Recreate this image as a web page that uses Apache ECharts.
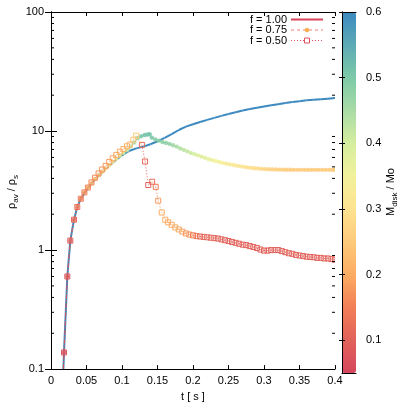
<!DOCTYPE html>
<html><head><meta charset="utf-8">
<script src="https://cdn.jsdelivr.net/npm/echarts@6/dist/echarts.min.js"></script>
<style>html,body{margin:0;padding:0;background:#fff}#c{width:407px;height:407px}</style>
</head><body><div id="c"></div>
<script>
// ---- data (t in s, rho_av/rho_s, M_disk/Mo) ----
const t100 = [0.014, 0.0183, 0.023, 0.0272, 0.0324, 0.037, 0.042, 0.05, 0.06, 0.07, 0.08, 0.09, 0.10, 0.11, 0.12, 0.13, 0.14, 0.15, 0.16, 0.17, 0.18, 0.19, 0.20, 0.21, 0.22, 0.23, 0.24, 0.25, 0.26, 0.27, 0.28, 0.29, 0.30, 0.31, 0.32, 0.33, 0.34, 0.35, 0.36, 0.37, 0.38, 0.39, 0.40];
const v100 = [0.03, 0.138, 0.60, 1.20, 1.80, 2.30, 2.70, 3.20, 3.80, 4.40, 5.00, 5.60, 6.25, 6.80, 7.15, 7.40, 7.75, 8.20, 8.75, 9.40, 10.2, 10.9, 11.4, 11.9, 12.4, 12.9, 13.4, 13.9, 14.4, 14.9, 15.3, 15.7, 16.1, 16.5, 16.8, 17.2, 17.5, 17.8, 18.1, 18.3, 18.5, 18.7, 18.95];
const m100 = [0.6, 0.6, 0.6, 0.6, 0.6, 0.6, 0.6, 0.6, 0.6, 0.6, 0.6, 0.6, 0.6, 0.6, 0.6, 0.6, 0.6, 0.6, 0.6, 0.6, 0.6, 0.6, 0.6, 0.6, 0.6, 0.6, 0.6, 0.6, 0.6, 0.6, 0.6, 0.6, 0.6, 0.6, 0.6, 0.6, 0.6, 0.6, 0.6, 0.6, 0.6, 0.6, 0.6];

const t75 = [0.0140, 0.0183, 0.0230, 0.0272, 0.0324, 0.0370, 0.0420, 0.0470, 0.0520, 0.0570, 0.0620, 0.0670, 0.0720, 0.0770, 0.0820, 0.0870, 0.0920, 0.0970, 0.1020, 0.1070, 0.1120, 0.1170, 0.1220, 0.1270, 0.1320, 0.1360, 0.1390, 0.1420,
  0.147, 0.152, 0.157, 0.162, 0.167, 0.172, 0.177, 0.182, 0.187, 0.192,
  0.197, 0.202, 0.207, 0.212, 0.217, 0.222, 0.227, 0.232, 0.237, 0.242,
  0.247, 0.252, 0.257, 0.262, 0.267, 0.272, 0.277, 0.282, 0.287, 0.292,
  0.297, 0.302, 0.307, 0.312, 0.317, 0.322, 0.327, 0.332, 0.337, 0.342,
  0.347, 0.352, 0.357, 0.362, 0.367, 0.372, 0.377, 0.382, 0.387, 0.392,
  0.397, 0.400];
const v75 = [0.03, 0.138, 0.60, 1.20, 1.80, 2.30, 2.70, 3.05, 3.35, 3.65, 3.95, 4.25, 4.55, 4.85, 5.15, 5.50, 5.85, 6.20, 6.55, 6.90, 7.40, 8.00, 8.70, 9.05, 9.25, 9.35, 9.40, 8.80,
  8.50, 8.30, 8.10, 7.95, 7.80, 7.60, 7.40, 7.15, 6.95, 6.75,
  6.55, 6.40, 6.25, 6.10, 5.95, 5.80, 5.70, 5.60, 5.50, 5.40,
  5.32, 5.25, 5.18, 5.12, 5.05, 5.00, 4.95, 4.90, 4.87, 4.84,
  4.81, 4.79, 4.77, 4.76, 4.75, 4.74, 4.74, 4.73, 4.73, 4.72,
  4.72, 4.72, 4.72, 4.72, 4.72, 4.72, 4.72, 4.72, 4.72, 4.72,
  4.73, 4.73];
const m75 = [0.06, 0.07, 0.08, 0.10, 0.12, 0.14, 0.16, 0.18, 0.20, 0.22, 0.24, 0.26, 0.28, 0.30, 0.32, 0.34, 0.36, 0.38, 0.40, 0.42, 0.44, 0.46, 0.48, 0.50, 0.51, 0.51, 0.51, 0.50,
  0.49, 0.49, 0.48, 0.48, 0.47, 0.46, 0.45, 0.44, 0.43, 0.42,
  0.41, 0.40, 0.39, 0.385, 0.38, 0.37, 0.36, 0.35, 0.345, 0.34,
  0.33, 0.325, 0.32, 0.31, 0.305, 0.30, 0.295, 0.29, 0.285, 0.28,
  0.275, 0.27, 0.265, 0.26, 0.26, 0.255, 0.255, 0.25, 0.25, 0.25,
  0.25, 0.25, 0.25, 0.25, 0.25, 0.25, 0.25, 0.25, 0.25, 0.25,
  0.25, 0.25];

const t50 = [0.0140, 0.0183, 0.0230, 0.0272, 0.0324, 0.0370, 0.0420, 0.0470, 0.0520, 0.0570, 0.0620, 0.0670, 0.0720, 0.0770, 0.0820, 0.0870, 0.0920, 0.0970, 0.1020, 0.1070, 0.1110, 0.1160, 0.1200,
  0.1280, 0.1325, 0.1370, 0.1425, 0.1475, 0.1510,
  0.1560, 0.1610, 0.1650, 0.1700, 0.1750, 0.1800, 0.1850, 0.1900, 0.1950, 0.2000,
  0.205, 0.210, 0.215, 0.220, 0.225, 0.230, 0.235, 0.240, 0.245, 0.250,
  0.255, 0.260, 0.265, 0.270, 0.275, 0.280, 0.285, 0.290, 0.295, 0.300,
  0.305, 0.310, 0.315, 0.320, 0.325, 0.330, 0.335, 0.340, 0.345, 0.350,
  0.355, 0.360, 0.365, 0.370, 0.375, 0.380, 0.385, 0.390, 0.395, 0.400];
const v50 = [0.03, 0.138, 0.60, 1.20, 1.80, 2.30, 2.70, 3.05, 3.35, 3.70, 4.05, 4.40, 4.75, 5.10, 5.50, 5.90, 6.30, 6.70, 7.05, 7.45, 7.70, 8.45, 9.15,
  7.65, 5.55, 3.52, 3.75, 3.40, 2.60,
  2.07, 1.80, 1.71, 1.63, 1.55, 1.49, 1.43, 1.38, 1.35, 1.33,
  1.31, 1.30, 1.29, 1.28, 1.27, 1.26, 1.25, 1.23, 1.21, 1.19,
  1.17, 1.15, 1.13, 1.11, 1.10, 1.08, 1.06, 1.04, 1.01, 0.99,
  0.99, 1.00, 1.00, 1.00, 0.98, 0.96, 0.94, 0.93, 0.91, 0.90,
  0.89, 0.88, 0.875, 0.87, 0.86, 0.86, 0.85, 0.85, 0.84, 0.83];
const m50 = [0.06, 0.07, 0.08, 0.09, 0.11, 0.13, 0.14, 0.15, 0.155, 0.16, 0.165, 0.17, 0.175, 0.18, 0.185, 0.19, 0.195, 0.20, 0.205, 0.21, 0.22, 0.24, 0.25,
  0.11, 0.11, 0.10, 0.12, 0.14, 0.18,
  0.20, 0.20, 0.20, 0.20, 0.20, 0.20, 0.19, 0.18, 0.17, 0.15,
  0.13, 0.12, 0.11, 0.11, 0.11, 0.11, 0.10, 0.10, 0.10, 0.10,
  0.10, 0.10, 0.10, 0.10, 0.10, 0.10, 0.10, 0.10, 0.10, 0.10,
  0.10, 0.10, 0.10, 0.10, 0.10, 0.10, 0.10, 0.10, 0.10, 0.10,
  0.10, 0.10, 0.10, 0.10, 0.10, 0.10, 0.10, 0.10, 0.10, 0.10];

const legendNames = ['f = 1.00', 'f = 0.75', 'f = 0.50'];
const yMinorTicks = [0.2, 0.3, 0.4, 0.5, 0.6, 0.7, 0.8, 0.9, 2, 3, 4, 5, 6, 7, 8, 9, 20, 30, 40, 50, 60, 70, 80, 90];
const cbMin = 0.05, cbMax = 0.6;
const palette = ['#d5475c', '#e2625b', '#f27f57', '#fcac63', '#fdca7b', '#fde28f', '#f2f19c', '#d5ee9e', '#a9dba6', '#7dc9a8', '#5caab5', '#3c89bf'];

const FONT = 'Liberation Sans, Arial, sans-serif';

function rows(t, v, m) { return t.map((x, i) => [x, v[i], m[i]]); }

function pathRender(t, v, style) {
  return function (params, api) {
    const i = params.dataIndex;
    const p = api.coord([api.value(0), api.value(1)]);
    const col = api.visual('color');
    const ch = [];
    if (i < t.length - 1) {
      const q = api.coord([t[i + 1], v[i + 1]]);
      ch.push({ type: 'line', shape: { x1: p[0], y1: p[1], x2: q[0], y2: q[1] },
        style: { stroke: col, lineWidth: style.lw, lineDash: style.dash || null, fill: null } });
    }
    if (style.marker === 'dot') {
      ch.push({ type: 'circle', shape: { cx: p[0], cy: p[1], r: 2.2 }, style: { fill: col, stroke: null, opacity: 0.85 } });
    } else if (style.marker === 'square') {
      ch.push({ type: 'rect', shape: { x: p[0] - 2.5, y: p[1] - 2.5, width: 5, height: 5 }, style: { fill: null, stroke: col, lineWidth: 1 } });
    }
    return { type: 'group', children: ch };
  };
}

// legend (drawn as graphic, gnuplot style: text then sample)
const legendColors = ['#d8455b', '#ee7f74', '#e0505f'];
const legendY = [19.5, 30, 40.5];
const legendGraphic = [];
legendNames.forEach((name, k) => {
  const y = legendY[k];
  legendGraphic.push({ type: 'text', x: 287, y: y, style: { text: name, align: 'right', verticalAlign: 'middle', fill: '#000', font: '11px ' + FONT } });
});
legendGraphic.push({ type: 'line', shape: { x1: 291, y1: legendY[0], x2: 323, y2: legendY[0] }, style: { stroke: legendColors[0], lineWidth: 2 } });
legendGraphic.push({ type: 'line', shape: { x1: 291, y1: legendY[1], x2: 323, y2: legendY[1] }, style: { stroke: legendColors[1], lineWidth: 1, lineDash: [3, 3] } });
legendGraphic.push({ type: 'circle', shape: { cx: 307, cy: legendY[1], r: 2.3 }, style: { fill: '#f9b050' } });
legendGraphic.push({ type: 'line', shape: { x1: 291, y1: legendY[2], x2: 323, y2: legendY[2] }, style: { stroke: legendColors[2], lineWidth: 1, lineDash: [1, 2] } });
legendGraphic.push({ type: 'rect', shape: { x: 304.5, y: legendY[2] - 2.5, width: 5, height: 5 }, style: { fill: '#fff', stroke: legendColors[2], lineWidth: 1 } });

const chart = echarts.init(document.getElementById('c'), null, { renderer: 'canvas' });
const axisLineBlack = { show: true, lineStyle: { color: '#000', width: 1 } };

chart.setOption({
  animation: false,
  backgroundColor: '#fff',
  textStyle: { fontFamily: FONT },
  grid: [
    { left: 51, top: 12, width: 284, height: 361 },
    { left: 342, top: 12, width: 14, height: 361 }
  ],
  xAxis: [
    { gridIndex: 0, type: 'value', min: 0, max: 0.4, interval: 0.05, position: 'bottom', z: 5,
      axisLine: axisLineBlack, axisTick: { inside: true, length: 4, lineStyle: { color: '#000' } },
      axisLabel: { color: '#000', fontSize: 11, margin: 6, fontFamily: FONT }, splitLine: { show: false },
      name: 't [ s ]', nameLocation: 'middle', nameGap: 20, nameTextStyle: { color: '#000', fontSize: 11, fontFamily: FONT } },
    { gridIndex: 0, type: 'value', min: 0, max: 0.4, interval: 0.05, position: 'top', z: 5,
      axisLine: axisLineBlack, axisTick: { inside: true, length: 4, lineStyle: { color: '#000' } },
      axisLabel: { show: false }, splitLine: { show: false } },
    { gridIndex: 1, type: 'value', min: 0, max: 1, position: 'bottom', z: 5, axisLine: axisLineBlack,
      axisTick: { show: false }, axisLabel: { show: false }, splitLine: { show: false } },
    { gridIndex: 1, type: 'value', min: 0, max: 1, position: 'top', z: 5, axisLine: axisLineBlack,
      axisTick: { show: false }, axisLabel: { show: false }, splitLine: { show: false } }
  ],
  yAxis: [
    { gridIndex: 0, type: 'log', logBase: 10, min: 0.1, max: 100, position: 'left', z: 5,
      axisLine: axisLineBlack, axisTick: { inside: true, length: 6, lineStyle: { color: '#000' } },
      axisLabel: { color: '#000', fontSize: 11, margin: 7, fontFamily: FONT }, splitLine: { show: false } },
    { gridIndex: 0, type: 'log', logBase: 10, min: 0.1, max: 100, position: 'right', z: 5,
      axisLine: axisLineBlack, axisTick: { inside: true, length: 6, lineStyle: { color: '#000' } },
      axisLabel: { show: false }, splitLine: { show: false } },
    { gridIndex: 1, type: 'value', min: cbMin, max: cbMax, splitNumber: 5, position: 'left', z: 5,
      axisLine: axisLineBlack, axisTick: { inside: true, length: 3, lineStyle: { color: '#000' } },
      axisLabel: { show: false }, splitLine: { show: false } },
    { gridIndex: 1, type: 'value', min: cbMin, max: cbMax, splitNumber: 5, position: 'right', z: 5,
      axisLine: axisLineBlack, axisTick: { inside: true, length: 3, lineStyle: { color: '#000' } },
      axisLabel: { color: '#000', fontSize: 11, margin: 10, fontFamily: FONT, showMinLabel: false,
        formatter: v => (v < 0.09 ? '' : String(Math.round(v * 10) / 10)) },
      splitLine: { show: false } }
  ],
  visualMap: {
    type: 'continuous', min: cbMin, max: cbMax, dimension: 2, seriesIndex: [0, 1, 2],
    calculable: false, hoverLink: false, realtime: false, padding: 0,
    left: 342, top: 12, itemWidth: 14, itemHeight: 361, z: 1,
    inRange: { color: palette }
  },
  graphic: [
    { type: 'text', x: 12, y: 192, rotation: Math.PI / 2,
      style: { text: '{a|ρ}{s|av}{a| / ρ}{s|s}', align: 'center', verticalAlign: 'middle', fill: '#000',
        rich: { a: { fontSize: 11, lineHeight: 16, fontFamily: FONT, fill: '#000' },
                s: { fontSize: 8, lineHeight: 8, verticalAlign: 'bottom', fontFamily: FONT, fill: '#000' } } } },
    { type: 'text', x: 391, y: 192, rotation: Math.PI / 2,
      style: { text: '{a|M}{s|disk}{a| / Mo}', align: 'center', verticalAlign: 'middle', fill: '#000',
        rich: { a: { fontSize: 11, lineHeight: 16, fontFamily: FONT, fill: '#000' },
                s: { fontSize: 8, lineHeight: 8, verticalAlign: 'bottom', fontFamily: FONT, fill: '#000' } } } }
  ].concat(legendGraphic),
  series: [
    { name: legendNames[0], type: 'custom', xAxisIndex: 0, yAxisIndex: 0, clip: true, data: rows(t100, v100, m100),
      encode: { x: 0, y: 1 }, renderItem: pathRender(t100, v100, { lw: 2, marker: null }) },
    { name: legendNames[1], type: 'custom', xAxisIndex: 0, yAxisIndex: 0, clip: true, data: rows(t75, v75, m75),
      encode: { x: 0, y: 1 }, renderItem: pathRender(t75, v75, { lw: 1, dash: [4, 2, 1, 2], marker: 'dot' }) },
    { name: legendNames[2], type: 'custom', xAxisIndex: 0, yAxisIndex: 0, clip: true, data: rows(t50, v50, m50),
      encode: { x: 0, y: 1 }, renderItem: pathRender(t50, v50, { lw: 1, dash: [1, 2], marker: 'square' }) },
    { name: '_minor', type: 'custom', xAxisIndex: 0, yAxisIndex: 0, clip: true, z: 5,
      data: yMinorTicks.map(y => [0, y]), encode: { x: 0, y: 1 },
      renderItem: function (params, api) {
        const y = api.value(1);
        const l = api.coord([0, y]), r = api.coord([0.4, y]);
        return { type: 'group', children: [
          { type: 'line', shape: { x1: l[0], y1: l[1], x2: l[0] + 3, y2: l[1] }, style: { stroke: '#000', lineWidth: 1 } },
          { type: 'line', shape: { x1: r[0] - 3, y1: r[1], x2: r[0], y2: r[1] }, style: { stroke: '#000', lineWidth: 1 } }
        ] };
      } }
  ]
});
</script>
</body></html>
